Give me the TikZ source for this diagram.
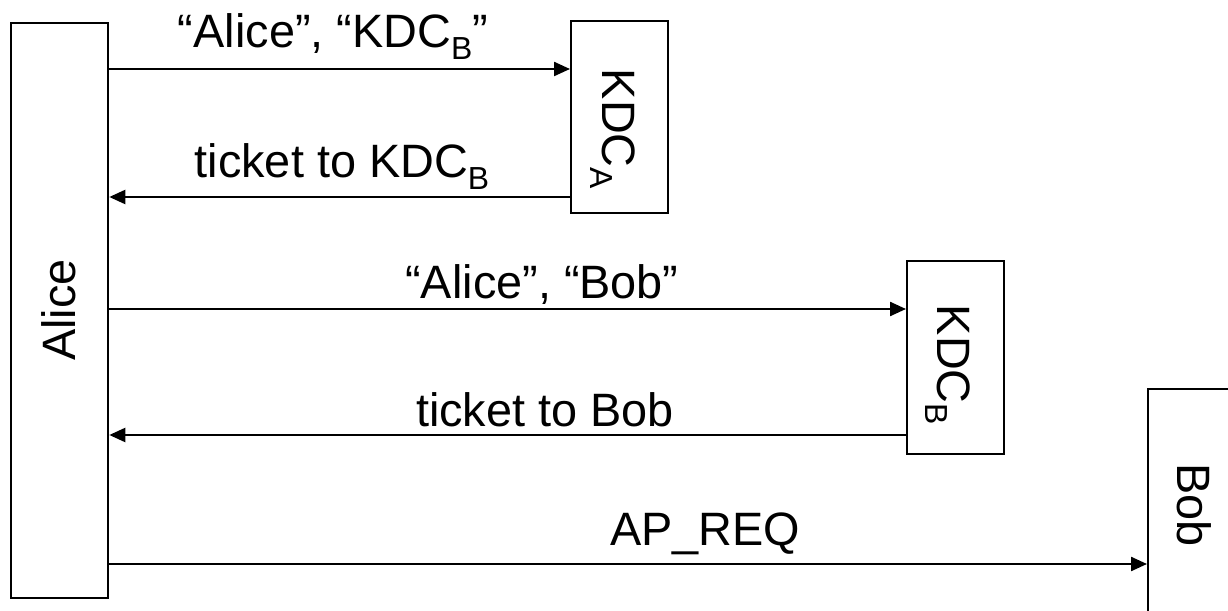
\documentclass[tikz,border=0pt]{standalone}
\usepackage{fontspec}
\setmainfont{Liberation Sans}
\usetikzlibrary{arrows.meta}
\newcommand{\subtxt}[1]{\raisebox{-0.24em}{\fontsize{32}{32}\selectfont #1}}
\begin{document}
\begin{tikzpicture}[x=1bp,y=-1bp,
  box/.style={draw,line width=2.3bp,inner sep=0pt,anchor=north west},
  arr/.style={line width=2.3bp,-{Triangle[length=16bp,width=14bp]}},
  lbl/.style={font=\fontsize{47}{52}\selectfont,inner sep=0pt,anchor=base}]
\useasboundingbox (0,0) rectangle (1228,611);
\clip (0,0) rectangle (1228,611);
% boxes
\node[box,minimum width=97bp,minimum height=575bp] (alice) at (10,22) {};
\node[box,minimum width=97bp,minimum height=192bp] (kdca) at (570,20) {};
\node[box,minimum width=97bp,minimum height=193bp] (kdcb) at (906,260) {};
\node[box,minimum width=120bp,minimum height=260bp] (bob) at (1147,388) {};
% box texts
\node[lbl,rotate=90] (alicet) at (75,310) {Alice};
\node[lbl,rotate=-90] (kdcat) at (602,129) {KDC\subtxt{A}};
\node[lbl,rotate=-90] (kdcbt) at (937,365) {KDC\subtxt{B}};
\node[lbl,rotate=-90] (bobt) at (1177,505) {Bob};
% arrow levels
\coordinate (y1) at (0,69);
\coordinate (y2) at (0,197);
\coordinate (y3) at (0,309);
\coordinate (y4) at (0,435);
\coordinate (y5) at (0,564);
\draw[arr] (alice.east |- y1) -- (kdca.west |- y1);
\draw[arr] (kdca.west |- y2) -- (alice.east |- y2);
\draw[arr] (alice.east |- y3) -- (kdcb.west |- y3);
\draw[arr] (kdcb.west |- y4) -- (alice.east |- y4);
\draw[arr] (alice.east |- y5) -- (bob.west |- y5);
% labels
\node[lbl] (l1) at (333,48) {“Alice”, “KDC\subtxt{B}”};
\node[lbl] (l2) at (342,178) {ticket to KDC\subtxt{B}};
\node[lbl] (l3) at (542,299) {“Alice”, “Bob”};
\node[lbl] (l4) at (545,426) {ticket to Bob};
\node[lbl] (l5) at (705,545) {AP\_REQ};
\end{tikzpicture}
\end{document}
